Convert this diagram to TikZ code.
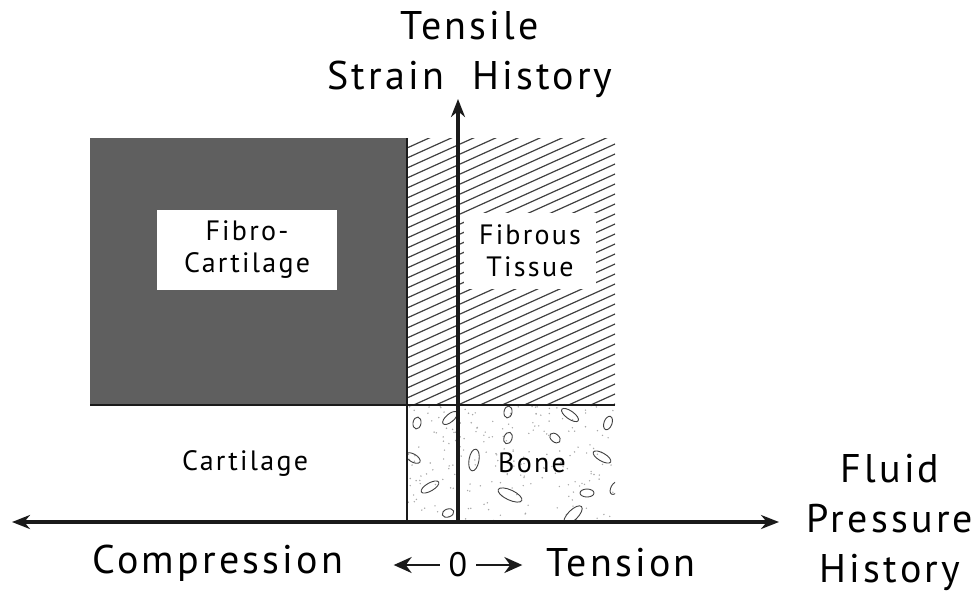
\documentclass[tikz,border=0pt]{standalone}
\usepackage{fontspec}
\setmainfont[LetterSpace=8]{PT Sans}
\usepackage{xcolor}
\definecolor{cDark}{HTML}{5F5F5F}
\definecolor{cLine}{HTML}{1A1A1A}
\definecolor{cHatch}{HTML}{404040}
\definecolor{cDot}{HTML}{A8A8A8}
\usetikzlibrary{positioning,arrows.meta}
\tikzset{
  zone-label/.style={align=center,font=\fontsize{14}{16}\selectfont,inner sep=1pt},
  zone-box/.style={zone-label,fill=white,minimum width=90pt,minimum height=40pt},
  axis-label/.style={align=center,font=\fontsize{20}{25}\selectfont},
  axis-arrow/.style={{Stealth[length=9pt,width=7pt]}-{Stealth[length=9pt,width=7pt]},line width=1.8pt,draw=cLine},
  axis-up/.style={-{Stealth[length=9pt,width=7pt]},line width=1.8pt,draw=cLine},
  arrow-small/.style={-{Stealth[length=9pt,width=8pt]},line width=1.1pt,draw=cLine},
  border/.style={line width=1pt,draw=cLine},
  hatch/.style={line width=0.6pt,draw=cHatch},
  grain/.style={line width=0.45pt,draw=cHatch},
}

\begin{document}
\begin{tikzpicture}[x=0.5pt,y=-0.5pt]
  \useasboundingbox (0,0) rectangle (978,596);
  % regions
  \fill[cDark] (90,138) rectangle (407,405);
  \begin{scope}
    \clip (407,138) rectangle (615,405);
    \foreach \c in {138,148,...,510}
      \draw[hatch] (407,\c) -- (615,\c-94);
  \end{scope}
  \begin{scope}
    \clip (407,405) rectangle (615,522);
    \pgfmathsetseed{11}
    \foreach \i in {1,...,220}
      \fill[cDot] (407+208*rnd,405+117*rnd) circle (0.8);
    \foreach \x/\y/\a/\rx/\ry in {508/412/80/6/4, 570/415/-35/10/4, 608/423/70/7/4,
        417/423/80/6/4, 450/418/40/9/4, 508/438/70/6/4, 555/438/-40/6/4,
        413/458/-30/8/4, 474/460/80/11/5, 602/457/-30/10/4, 430/487/30/10/4,
        510/495/-25/13/5, 587/493/0/7/4, 615/488/60/7/4, 448/513/20/6/4, 573/515/45/12/5}
      \draw[grain] (\x,\y) ellipse[x radius=\rx, y radius=\ry, rotate=\a];
  \end{scope}
  \draw[border] (90,405) -- (615,405);
  \draw[border] (407,138) -- (407,522);

  \node[zone-box] (fc) at (247,250) {Fibro-\\Cartilage};
  \node[zone-box,minimum width=66pt,minimum height=38pt] (ft) at (530,251) {Fibrous\\Tissue};
  \node[zone-label] (cart) at (245,463) {Cartilage};
  \node[zone-label] (bone) at (532,463) {Bone};

  % axes
  \coordinate (ax-left)  at (12,522);
  \coordinate (ax-right) at (779,522);
  \coordinate (origin)   at (458,522);
  \coordinate (ax-top)   at (458,99);
  \draw[axis-arrow] (ax-left) -- (ax-right);
  \draw[axis-up] (origin) -- (ax-top);

  \node[axis-label] (tss) at (470,54) {Tensile\\Strain\ \ History};
  \node[axis-label] (fph) at (890,522) {Fluid\\Pressure\\History};
  \node[axis-label] (comp) at (218,563) {Compression};
  \node[axis-label,font=\fontsize{17}{20}\selectfont] (zero) at (458,565) {0};
  \node[axis-label] (tens) at (621,563) {Tension};
  \coordinate[left=1pt of zero.west]  (zl);
  \coordinate[left=23pt of zl]        (zl-end);
  \coordinate[right=1pt of zero.east] (zr);
  \coordinate[right=23pt of zr]       (zr-end);
  \draw[arrow-small] (zl) -- (zl-end);
  \draw[arrow-small] (zr) -- (zr-end);
\end{tikzpicture}
\end{document}
